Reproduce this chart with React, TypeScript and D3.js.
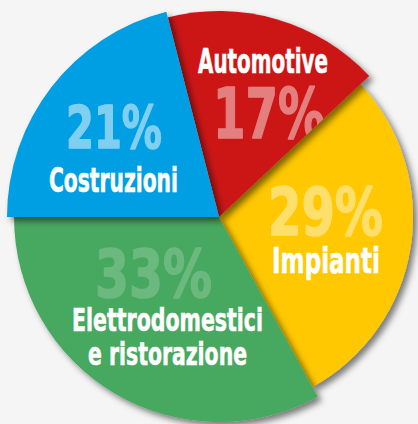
import React from "react";
import * as d3 from "d3";

// ---- data ----
const CATEGORIES = ["Costruzioni", "Automotive", "Impianti", "Elettrodomestici e ristorazione"];
const VALUES = [21, 17, 29, 33];
const NAME_LINES = [["Costruzioni"], ["Automotive"], ["Impianti"], ["Elettrodomestici", "e ristorazione"]];

// ---- styling / layout (not data) ----
const COLORS = ["#009fe3", "#cc1719", "#ffc800", "#47a85e"];
const PCT_OPACITY = [0.5, 0.45, 0.42, 0.2];
const RADII = [212, 206, 194, 205];
const DRAW_ORDER = [2, 1, 3, 0];
const W = 418;
const H = 424;
const CX = 219;
const CY = 217;

// label layout: [x start, baseline, width, font size]
const PCT_LAYOUT = [
  [66, 148, 96, 59],
  [213, 138, 112, 69],
  [268, 235, 115, 65],
  [95, 297, 117, 65],
];
const NAME_LAYOUT = [
  [[49, 192, 129, 34]],
  [[198, 73, 130, 33]],
  [[272, 273, 108, 35]],
  [[72, 331, 191, 32], [88, 365, 159, 32]],
];

export default function App() {
  const pie = d3
    .pie<number>()
    .sort(null)
    .startAngle(-Math.PI / 2)
    .endAngle((3 * Math.PI) / 2)
    .value((d) => d);
  const arcs = pie(VALUES);
  const arcGen = (i: number) =>
    d3.arc<d3.PieArcDatum<number>>().innerRadius(0).outerRadius(RADII[i])(arcs[i]) || "";

  const nameFont = "'Liberation Sans Narrow', 'DejaVu Sans Condensed', 'Liberation Sans', sans-serif";
  const pctFont = "'DejaVu Sans', 'Open Sans', sans-serif";

  return (
    <svg
      width={W}
      height={H}
      viewBox={`0 0 ${W} ${H}`}
      style={{ position: "absolute", left: 0, top: 0, background: "#f5f5f5" }}
    >
      <defs>
        <filter id="sh" x="-20%" y="-20%" width="150%" height="150%">
          <feDropShadow dx="4" dy="4" stdDeviation="3" floodColor="#000" floodOpacity="0.5" />
        </filter>
        {arcs.map((a, i) => (
          <clipPath id={`clip${i}`} key={i}>
            <path d={arcGen(i)} transform={`translate(${CX},${CY})`} />
          </clipPath>
        ))}
      </defs>
      <rect x={0} y={0} width={W} height={H} fill="#f5f5f5" />
      <g transform={`translate(${CX},${CY})`}>
        {DRAW_ORDER.map((i) => (
          <path key={i} d={arcGen(i)} fill={COLORS[i]} filter="url(#sh)" />
        ))}
      </g>
      {arcs.map((a, i) => (
        <g key={`lab${i}`} clipPath={`url(#clip${i})`}>
          <text
            x={PCT_LAYOUT[i][0]}
            y={PCT_LAYOUT[i][1]}
            textLength={PCT_LAYOUT[i][2]}
            lengthAdjust="spacingAndGlyphs"
            fontSize={PCT_LAYOUT[i][3]}
            fontFamily={pctFont}
            fontWeight="bold"
            fill="#ffffff"
            stroke="#ffffff"
            strokeWidth={1.5}
            strokeLinejoin="round"
            opacity={PCT_OPACITY[i]}
          >
            {`${VALUES[i]}%`}
          </text>
          {NAME_LINES[i].map((line, j) => (
            <text
              key={j}
              x={NAME_LAYOUT[i][j][0]}
              y={NAME_LAYOUT[i][j][1]}
              textLength={NAME_LAYOUT[i][j][2]}
              lengthAdjust="spacingAndGlyphs"
              fontSize={NAME_LAYOUT[i][j][3]}
              fontFamily={nameFont}
              fontWeight="bold"
              fill="#ffffff"
              stroke="#ffffff"
              strokeWidth={0.6}
            >
              {line}
            </text>
          ))}
        </g>
      ))}
    </svg>
  );
}
